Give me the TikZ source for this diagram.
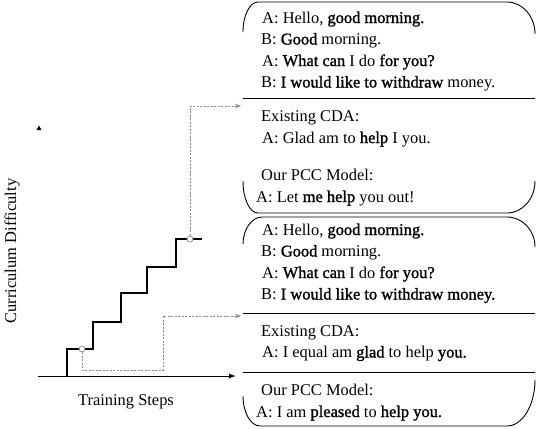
\documentclass[tikz,border=0pt]{standalone}
\usepackage{fontspec}
\setmainfont{Liberation Serif}
\newfontfamily\fakebf[FakeBold=1.3]{Liberation Serif}
\newcommand{\hl}[1]{{\fakebf #1}}
\usetikzlibrary{arrows.meta}
\begin{document}
\begin{tikzpicture}[x=1bp,y=-1bp,
  txt/.style={anchor=base west,inner sep=0pt,font=\fontsize{16.5}{20}\selectfont},
  lbl/.style={inner sep=0pt,font=\fontsize{16.5}{20}\selectfont},
  boxline/.style={line width=0.9bp},
  stair/.style={line width=1.2bp},
  guide/.style={draw=black!45,line width=0.8bp,dash pattern=on 2bp off 1.5bp,-{Stealth[length=6bp,width=4.5bp]}},
  knot/.style={circle,draw=black!45,fill=white,line width=0.7bp,minimum size=6bp,inner sep=0pt}]
\useasboundingbox (0,0) rectangle (536,428);
% axes
\coordinate (xo) at (38,376);
\coordinate (xe) at (236,376);
\draw[line width=1bp,-{Latex[length=7bp,width=5bp]}] (xo) -- (xe);
\fill (36.5,130) -- (41.5,130) -- (39,125.5) -- cycle;
\node[lbl,rotate=90] (ylab) at (12,251) {Curriculum Difficulty};
\node[lbl] (xlab) at (126,402) {Training Steps};
% staircase
\draw[stair] (67,376) -- (67,349) -- (93,349) -- (93,322) -- (121,322) -- (121,293)
  -- (147,293) -- (147,267) -- (176,267) -- (176,239) -- (202,239);
% boxes
\draw[boxline] (243,32) .. controls (243,15.4) and (249.7,2) .. (258,2) -- (507,2)
  .. controls (522.5,2) and (535,16.3) .. (535,34);
\draw[boxline] (243,181) .. controls (243,199) and (249.7,213) .. (258,213) -- (507,213)
  .. controls (522.5,213) and (535,198.7) .. (535,181);
\draw[boxline] (243,98) -- (535,98);
\draw[boxline] (243,244) .. controls (243,229) and (252,217) .. (262,217) -- (507,217)
  .. controls (522.5,217) and (535,230.4) .. (535,247);
\draw[boxline] (243,396) .. controls (243,413) and (251,426) .. (260,426) -- (507,426)
  .. controls (522.5,426) and (535,405) .. (535,380);
\draw[boxline] (243,313) -- (535,313);
\draw[boxline] (243,372) -- (535,372);
% knots and guides
\node[knot] (k1) at (82,349) {};
\node[knot] (k2) at (190,239) {};
\coordinate (t1) at (241,106);
\coordinate (t2) at (241,316);
\draw[guide] (k2) -- (190,106) -- (t1);
\draw[guide] (k1) -- (82,370) -- (163,370) -- (163,316) -- (t2);
% box 1 text
\node[txt] (a1) at (262,23) {A: Hello, \hl{good morning.}};
\node[txt] (a2) at (261,44.5) {B: \hl{Good} morning.};
\node[txt] (a3) at (262,66) {A: \hl{What can} I do \hl{for you?}};
\node[txt] (a4) at (261,87.5) {B: \hl{I would like to withdraw} money.};
\node[txt] (a5) at (261,121.5) {Existing CDA:};
\node[txt] (a6) at (262,143) {A: Glad am to \hl{help} I you.};
\node[txt] (a7) at (261,180) {Our PCC Model:};
\node[txt] (a8) at (256,202) {A: Let \hl{me help} you out!};
% box 2 text
\node[txt] (b1) at (262,235) {A: Hello, \hl{good morning.}};
\node[txt] (b2) at (261,256.5) {B: \hl{Good} morning.};
\node[txt] (b3) at (262,278) {A: \hl{What can} I do \hl{for you?}};
\node[txt] (b4) at (261,299.5) {B: \hl{I would like to withdraw money.}};
\node[txt] (b5) at (261,336) {Existing CDA:};
\node[txt] (b6) at (262,357.5) {A: I equal am \hl{glad} to help \hl{you.}};
\node[txt] (b7) at (261,395) {Our PCC Model:};
\node[txt] (b8) at (256,417) {A: I am \hl{pleased} to \hl{help you.}};
\end{tikzpicture}
\end{document}
